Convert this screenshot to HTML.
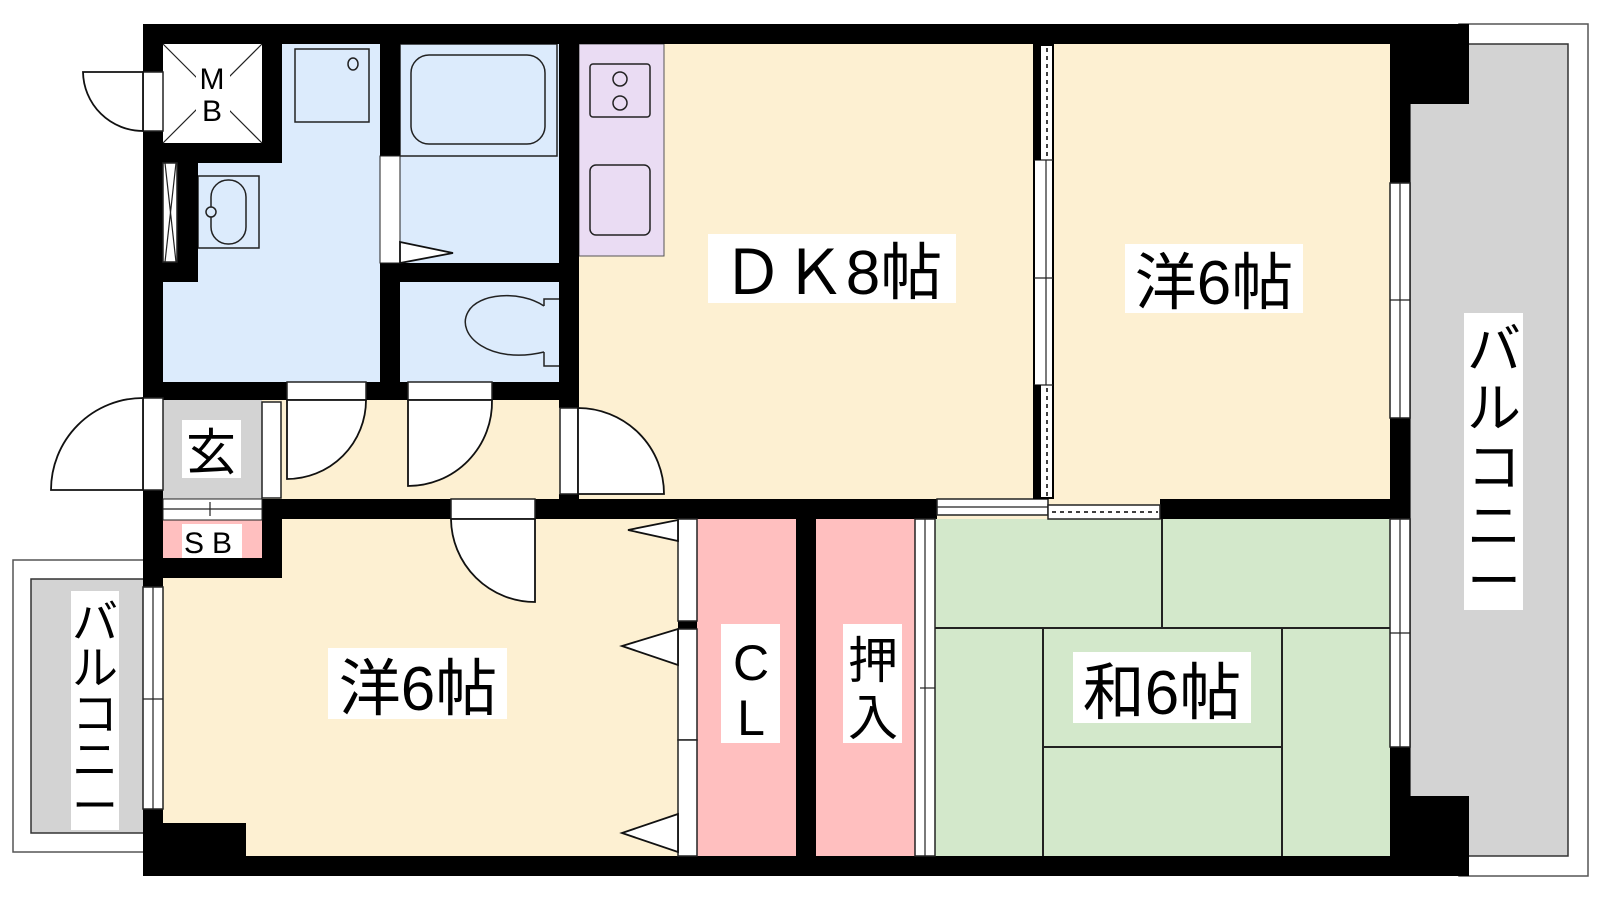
<!DOCTYPE html>
<html><head><meta charset="utf-8"><style>
html,body{margin:0;padding:0;background:#fff;}
svg{display:block;}
text{font-family:"Liberation Sans","Noto Sans CJK JP",sans-serif;fill:#000;}
</style></head><body>
<svg width="1600" height="900" viewBox="0 0 1600 900" xmlns="http://www.w3.org/2000/svg">
<!-- balconies -->
<rect x="1459" y="24" width="129" height="852" fill="#fff" stroke="#555" stroke-width="1.5"/>
<rect x="1410" y="44" width="158" height="812" fill="#d3d3d3" stroke="#333" stroke-width="1.5"/>
<rect x="13" y="560" width="131" height="292" fill="#fff" stroke="#555" stroke-width="1.5"/>
<rect x="31" y="579" width="113" height="254" fill="#d3d3d3" stroke="#333" stroke-width="1.5"/>

<!-- floors -->
<rect x="143" y="24" width="1267" height="852" fill="#fdf0d2"/>
<rect x="163" y="44" width="99" height="99" fill="#fff"/>
<polygon points="282,44 380,44 380,382 163,382 163,282 198,282 198,163 282,163" fill="#dcebfc"/>
<rect x="400" y="44" width="159" height="219" fill="#dcebfc"/>
<rect x="400" y="282" width="159" height="100" fill="#dcebfc"/>
<rect x="579" y="44" width="85" height="212" fill="#eadcf3" stroke="#555" stroke-width="1"/>
<rect x="163" y="400" width="99" height="99" fill="#d3d3d3"/>
<rect x="163" y="520" width="99" height="38" fill="#ffbfbf"/>
<rect x="697" y="519" width="99" height="337" fill="#ffbfbf"/>
<rect x="816" y="519" width="99" height="337" fill="#ffbfbf"/>
<rect x="935" y="519" width="455" height="337" fill="#d3e8cb"/>

<!-- tatami lines -->
<g stroke="#222" stroke-width="2" fill="none">
<line x1="935" y1="628" x2="1390" y2="628"/>
<line x1="1162" y1="519" x2="1162" y2="628"/>
<line x1="1043" y1="628" x2="1043" y2="856"/>
<line x1="1282" y1="628" x2="1282" y2="856"/>
<line x1="1043" y1="747" x2="1282" y2="747"/>
</g>

<!-- fixtures -->
<g stroke="#222" stroke-width="1.5" fill="none">
<rect x="295" y="49" width="74" height="73"/>
<ellipse cx="353" cy="64" rx="5" ry="6"/>
<rect x="400" y="44" width="157" height="112"/>
<rect x="411" y="55" width="134" height="89" rx="18"/>
<rect x="198" y="176" width="61" height="72"/>
<rect x="211" y="180" width="35" height="64" rx="17"/>
<circle cx="211" cy="212" r="5" fill="#dcebfc"/>
<path d="M544,306 C520,290 478,293 468,312 C455,335 490,365 544,352" />
<path d="M544,306 L544,299 L559,299 M544,352 L544,366 L559,366"/>
<rect x="590" y="64" width="60" height="53" rx="3"/>
<circle cx="620" cy="79" r="7"/><circle cx="620" cy="103" r="7"/>
<rect x="590" y="165" width="60" height="70" rx="6"/>
</g>

<!-- walls -->
<g fill="#000">
<rect x="143" y="24" width="1326" height="20"/>
<rect x="143" y="856" width="1326" height="20"/>
<rect x="1390" y="24" width="79" height="80"/>
<rect x="1390" y="796" width="79" height="80"/>
<rect x="1390" y="24" width="20" height="852"/>
<rect x="143" y="24" width="20" height="852"/>
<rect x="143" y="823" width="103" height="53"/>
<rect x="262" y="24" width="20" height="139"/>
<rect x="143" y="143" width="139" height="20"/>
<rect x="163" y="163" width="35" height="119"/>
<rect x="143" y="262" width="55" height="20"/>
<rect x="380" y="24" width="20" height="358"/>
<rect x="380" y="263" width="199" height="19"/>
<rect x="559" y="24" width="20" height="384"/>
<rect x="559" y="494" width="20" height="8"/>
<rect x="143" y="382" width="436" height="18"/>
<rect x="262" y="499" width="20" height="79"/>
<rect x="143" y="558" width="139" height="20"/>
<rect x="262" y="499" width="675" height="20"/>
<rect x="1160" y="499" width="250" height="20"/>
<rect x="796" y="519" width="20" height="337"/>
<rect x="678" y="621" width="19" height="8"/>
</g>

<!-- window/door openings (white) -->
<g fill="#fff" stroke="#222" stroke-width="1.5">
<rect x="143" y="72" width="20" height="59"/>
<rect x="163" y="163" width="14" height="99"/>
<rect x="380" y="156" width="20" height="107" stroke-width="1"/>
<rect x="287" y="382" width="79" height="18"/>
<rect x="408" y="382" width="84" height="18"/>
<rect x="143" y="398" width="20" height="92"/>
<rect x="262" y="402" width="19" height="96"/>
<rect x="560" y="408" width="18" height="86"/>
<rect x="163" y="499" width="99" height="21" stroke-width="1"/>
<rect x="451" y="499" width="84" height="20"/>
<rect x="143" y="587" width="20" height="222"/>
<rect x="678" y="519" width="19" height="102"/>
<rect x="678" y="629" width="19" height="111"/>
<rect x="678" y="740" width="19" height="116"/>
<rect x="915" y="519" width="20" height="337"/>
<rect x="937" y="499" width="111" height="16"/>
<rect x="1048" y="505" width="112" height="14"/>
<rect x="1390" y="183" width="20" height="235"/>
<rect x="1390" y="519" width="20" height="228"/>
<rect x="1034" y="45" width="19" height="453" stroke="#000" stroke-width="2"/>
</g>
<g stroke="#222" stroke-width="1.2" fill="none">
<line x1="163" y1="44" x2="262" y2="143"/><line x1="262" y1="44" x2="163" y2="143"/>
<line x1="165" y1="163" x2="176" y2="262"/><line x1="176" y1="163" x2="165" y2="262"/>
<line x1="163" y1="509" x2="262" y2="509"/><line x1="210" y1="502" x2="210" y2="516"/>
<line x1="153" y1="587" x2="153" y2="809"/><line x1="143" y1="699" x2="163" y2="699"/>
<line x1="925" y1="519" x2="925" y2="856"/><line x1="920" y1="688" x2="935" y2="688"/>
<line x1="1400" y1="183" x2="1400" y2="418"/><line x1="1390" y1="300" x2="1410" y2="300"/>
<line x1="1400" y1="519" x2="1400" y2="747"/><line x1="1390" y1="633" x2="1410" y2="633"/>
<line x1="1046" y1="160" x2="1046" y2="385"/><line x1="1034" y1="278" x2="1053" y2="278"/>
<line x1="1034" y1="160" x2="1053" y2="160"/><line x1="1034" y1="385" x2="1053" y2="385"/>
<line x1="937" y1="507" x2="1048" y2="507"/>
</g>
<g fill="#000"><rect x="1034" y="45" width="7" height="115"/><rect x="1034" y="385" width="7" height="113"/></g>
<g stroke="#000" stroke-width="1.5" stroke-dasharray="4,4">
<line x1="1047" y1="48" x2="1047" y2="158"/><line x1="1047" y1="388" x2="1047" y2="496"/>
<line x1="1052" y1="512" x2="1158" y2="512"/>
</g>

<!-- door swings -->
<g fill="#fff" stroke="#111" stroke-width="1.8">
<path d="M143,72 L83,72 A60,60 0 0 0 143,131 Z"/>
<path d="M143,490 L51,490 A92,92 0 0 1 143,398 Z"/>
<path d="M287,400 L366,400 A79,79 0 0 1 287,479 Z"/>
<path d="M408,400 L492,400 A84,84 0 0 1 408,486 Z"/>
<path d="M578,408 A86,86 0 0 1 664,494 L578,494 Z"/>
<path d="M535,519 L535,602 A84,84 0 0 1 451,519 Z"/>
<polygon points="400,242 453,253 400,263"/>
<polygon points="678,520 628,530 678,541"/>
<polygon points="678,629 622,646 678,665"/>
<polygon points="678,814 622,833 678,852"/>
</g>

<!-- labels -->
<g fill="#fff">
<rect x="196" y="60" width="34" height="66"/>
<rect x="708" y="234" width="248" height="69"/>
<rect x="1125" y="244" width="178" height="69"/>
<rect x="328" y="648" width="179" height="71"/>
<rect x="1073" y="652" width="178" height="71"/>
<rect x="182" y="420" width="59" height="58"/>
<rect x="182" y="524" width="60" height="34"/>
<rect x="721" y="624" width="59" height="119"/>
<rect x="843" y="624" width="59" height="119"/>
<rect x="1464" y="313" width="59" height="297"/>
<rect x="71" y="591" width="48" height="239"/>
</g>
<text x="212" y="89" font-size="30" text-anchor="middle">M</text>
<text x="212" y="121" font-size="30" text-anchor="middle">B</text>
<text x="211" y="470" font-size="50" text-anchor="middle">玄</text>
<text x="212" y="553" font-size="30" text-anchor="middle" letter-spacing="8">SB</text>
<text x="832" y="294" font-size="62" text-anchor="middle">ＤＫ8帖</text>
<text x="1214" y="304" font-size="62" text-anchor="middle">洋6帖</text>
<text x="418" y="710" font-size="62" text-anchor="middle">洋6帖</text>
<text x="1162" y="714" font-size="62" text-anchor="middle">和6帖</text>
<text x="751" y="680" font-size="50" text-anchor="middle">C</text>
<text x="751" y="735" font-size="50" text-anchor="middle">L</text>
<text x="873" y="678" font-size="50" text-anchor="middle">押</text>
<text x="873" y="735" font-size="50" text-anchor="middle">入</text>
<g font-size="54" text-anchor="middle">
<text x="1494" y="368">バ</text><text x="1494" y="427">ル</text><text x="1494" y="486">コ</text><text x="1494" y="545">ニ</text><text x="1494" y="600">ー</text>
</g>
<g font-size="46" text-anchor="middle">
<text x="95" y="638">バ</text><text x="95" y="684">ル</text><text x="95" y="730">コ</text><text x="95" y="776">ニ</text><text x="95" y="822">ー</text>
</g>
</svg>
</body></html>
